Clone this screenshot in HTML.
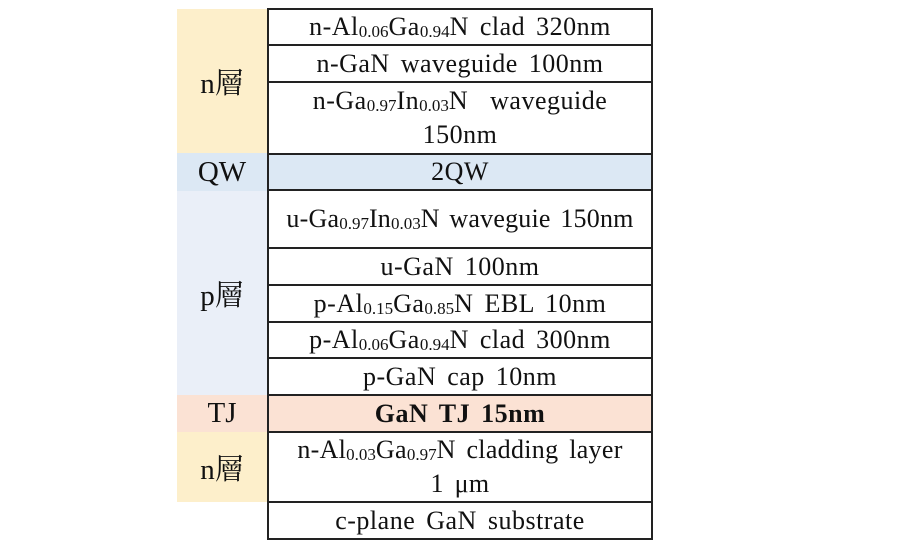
<!DOCTYPE html>
<html><head><meta charset="utf-8"><style>
body{margin:0;width:900px;height:557px;background:#fff;position:relative;font-family:"Liberation Serif","Noto Serif CJK SC",serif;color:#111;overflow:hidden}
.l{position:absolute;left:177px;width:90px;display:flex;align-items:center;justify-content:center;font-size:29px}
.r{position:absolute;left:267px;width:386px;border:2px solid #222;box-sizing:border-box;display:flex;align-items:center;justify-content:center;text-align:center;font-size:26px;line-height:34px;background:#fff;word-spacing:4px;letter-spacing:0.5px}
.r span{display:block}
sub{font-size:17px;vertical-align:-2px;line-height:0;letter-spacing:0}
</style></head><body>
<div class="l" style="top:9px;height:144px;background:#fdefcb">n層</div>
<div class="l" style="top:153px;height:38px;background:#dce8f4">QW</div>
<div class="l" style="top:191px;height:204px;background:#eaeff8">p層</div>
<div class="l" style="top:395px;height:37px;background:#fbe2d4">TJ</div>
<div class="l" style="top:432px;height:70px;background:#fdefcb">n層</div>

<div class="r" style="top:8px;height:38px"><span>n-Al<sub>0.06</sub>Ga<sub>0.94</sub>N clad 320nm</span></div>
<div class="r" style="top:44px;height:39px"><span>n-GaN waveguide 100nm</span></div>
<div class="r" style="top:81px;height:74px"><span>n-Ga<sub>0.97</sub>In<sub>0.03</sub>N &nbsp;waveguide<br>150nm</span></div>
<div class="r" style="top:153px;height:38px;background:#dce8f4"><span>2QW</span></div>
<div class="r" style="top:189px;height:60px;white-space:nowrap;letter-spacing:0.2px;word-spacing:3px"><span>u-Ga<sub>0.97</sub>In<sub>0.03</sub>N waveguie 150nm</span></div>
<div class="r" style="top:247px;height:39px"><span>u-GaN 100nm</span></div>
<div class="r" style="top:284px;height:39px"><span>p-Al<sub>0.15</sub>Ga<sub>0.85</sub>N EBL 10nm</span></div>
<div class="r" style="top:321px;height:38px"><span>p-Al<sub>0.06</sub>Ga<sub>0.94</sub>N clad 300nm</span></div>
<div class="r" style="top:357px;height:39px"><span>p-GaN cap 10nm</span></div>
<div class="r" style="top:394px;height:39px;background:#fbe2d4;font-weight:bold"><span>GaN TJ 15nm</span></div>
<div class="r" style="top:431px;height:72px;letter-spacing:0.3px"><span>n-Al<sub>0.03</sub>Ga<sub>0.97</sub>N cladding layer<br>1 μm</span></div>
<div class="r" style="top:501px;height:39px"><span>c-plane GaN substrate</span></div>
</body></html>
